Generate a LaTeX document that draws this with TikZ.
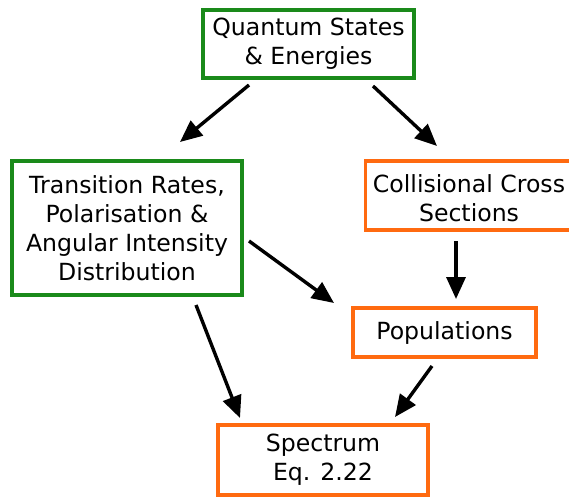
\documentclass[tikz,border=0pt]{standalone}
\usepackage{fontspec}
\setmainfont{DejaVu Sans}
\usetikzlibrary{arrows.meta}
\definecolor{boxgreen}{HTML}{1A8A1A}
\definecolor{boxorange}{HTML}{FF6A10}
\begin{document}
\begin{tikzpicture}[x=1pt,y=-1pt,
  greenbox/.style={draw=boxgreen,line width=3.2pt,fill=white,inner sep=0pt,align=center,
    font=\fontsize{23.6}{29}\selectfont},
  orangebox/.style={draw=boxorange,line width=3.2pt,fill=white,inner sep=0pt,align=center,
    font=\fontsize{23.6}{29}\selectfont},
  arr/.style={line width=3.4pt,-{Triangle[length=22pt,width=19pt]}}]
\useasboundingbox (0,0) rectangle (569,498);
\clip (0,0) rectangle (569,498);
\node[greenbox,minimum width=211pt,minimum height=68pt] (qs) at (308.5,44) {Quantum States\\\& Energies};
\node[greenbox,minimum width=230pt,minimum height=134pt] (tr) at (127,228) {Transition Rates,\\Polarisation \&\\Angular Intensity\\Distribution};
\node[orangebox,minimum width=214pt,minimum height=69pt,anchor=west] (cc) at (364,195.5) {};
\node at (469,198) [font=\fontsize{23.6}{29}\selectfont,align=center] (cct) {Collisional Cross\\Sections};
\node[orangebox,minimum width=183pt,minimum height=49pt] (po) at (444.5,332.5) {Populations};
\node[orangebox,minimum width=210pt,minimum height=70pt] (sp) at (323,460) {Spectrum\\Eq. 2.22};
\coordinate (a1s) at (249,85); \coordinate (a1e) at (180,142);
\coordinate (a2s) at (373,86); \coordinate (a2e) at (437,146);
\coordinate (a3s) at (249,241); \coordinate (a3e) at (334,303);
\coordinate (a4s) at (456,241); \coordinate (a4e) at (456,299);
\coordinate (a5s) at (196,305); \coordinate (a5e) at (240,418);
\coordinate (a6s) at (432,366); \coordinate (a6e) at (395,417);
\draw[arr] (a1s) -- (a1e);
\draw[arr] (a2s) -- (a2e);
\draw[arr] (a3s) -- (a3e);
\draw[arr] (a4s) -- (a4e);
\draw[arr] (a5s) -- (a5e);
\draw[arr] (a6s) -- (a6e);
\end{tikzpicture}
\end{document}
